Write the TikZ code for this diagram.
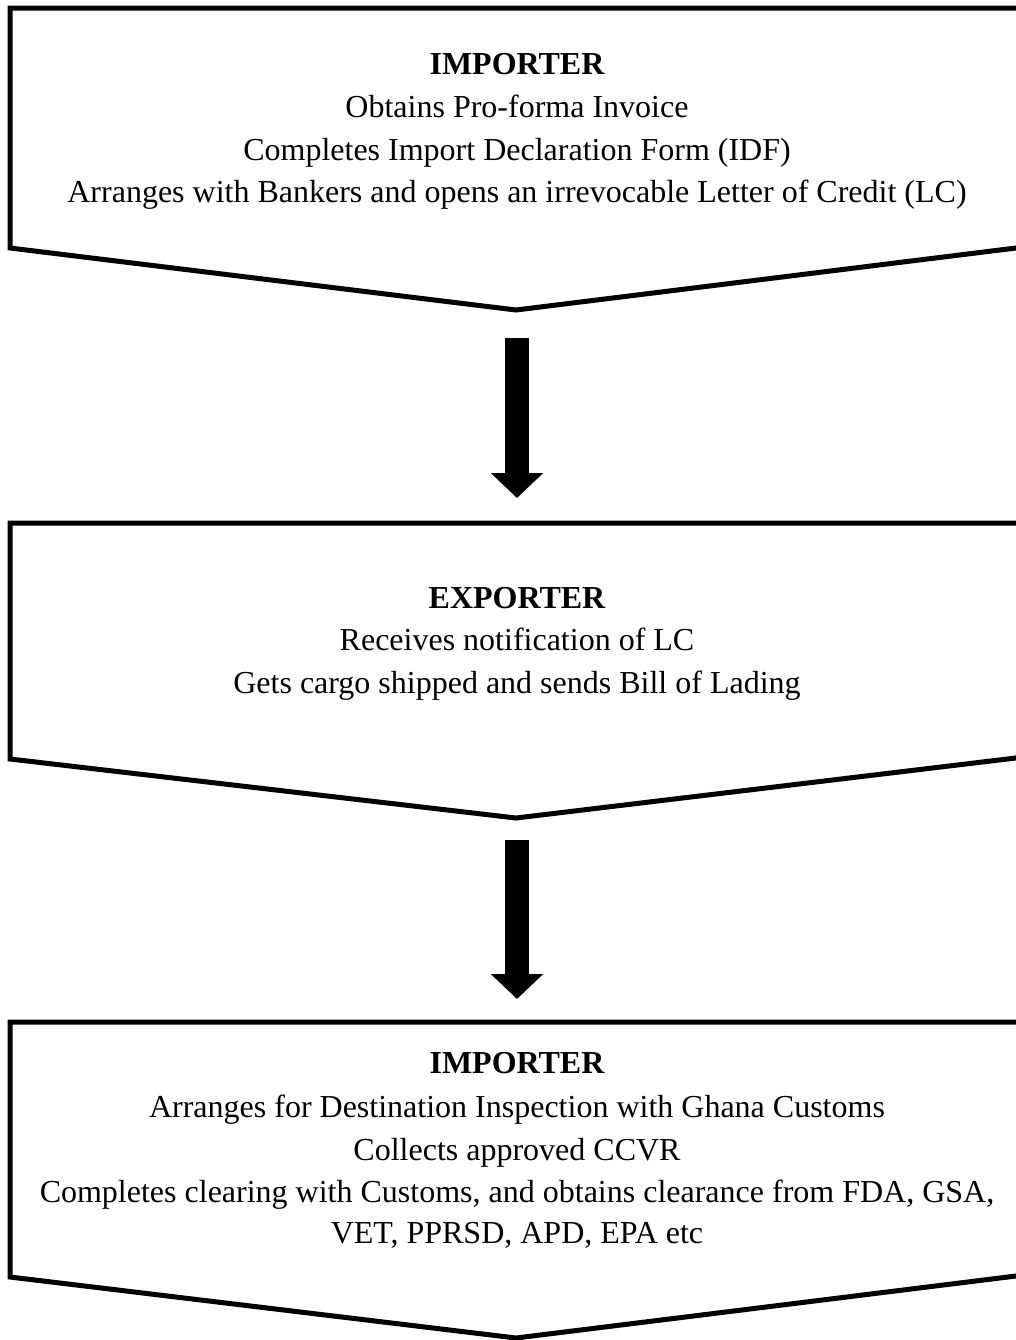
\documentclass[tikz,border=0pt]{standalone}
\usepackage{fontspec}
\setmainfont{Liberation Serif}
\usetikzlibrary{arrows.meta}
\tikzset{
  boxline/.style={line width=3.75pt, line join=miter, draw=black},
  txt/.style={anchor=base, inner sep=0pt, font=\fontsize{24}{29}\selectfont},
  head/.style={txt, font=\fontsize{24}{29}\selectfont\bfseries},
  bigarrow/.style={line width=18pt, -{Triangle[length=18.75pt,width=38.25pt]}}
}
\begin{document}
\begin{tikzpicture}[x=0.75pt,y=-0.75pt]
\useasboundingbox (0,0) rectangle (1016,1340);
% box 1
\draw[boxline] (10,8) -- (1024,8) -- (1024,247) -- (516,310) -- (10,248) -- cycle;
\node[head] (h1) at (517,74) {IMPORTER};
\node[txt] (l1a) at (517,117) {Obtains Pro-forma Invoice};
\node[txt] (l1b) at (517,160) {Completes Import Declaration Form (IDF)};
\node[txt] (l1c) at (517,202) {Arranges with Bankers and opens an irrevocable Letter of Credit (LC)};
% arrow 1
\coordinate (a1s) at (517,338);
\coordinate (a1e) at (517,498);
\draw[bigarrow] (a1s) -- (a1e);
% box 2
\draw[boxline] (10,523) -- (1024,523) -- (1024,757) -- (516,818) -- (10,759) -- cycle;
\node[head] (h2) at (517,608) {EXPORTER};
\node[txt] (l2a) at (517,650) {Receives notification of LC};
\node[txt] (l2b) at (517,693) {Gets cargo shipped and sends Bill of Lading};
% arrow 2
\coordinate (a2s) at (517,840);
\coordinate (a2e) at (517,999);
\draw[bigarrow] (a2s) -- (a2e);
% box 3
\draw[boxline] (10,1022) -- (1024,1022) -- (1024,1275) -- (516,1338) -- (10,1277) -- cycle;
\node[head] (h3) at (517,1073) {IMPORTER};
\node[txt] (l3a) at (517,1117) {Arranges for Destination Inspection with Ghana Customs};
\node[txt] (l3b) at (517,1160) {Collects approved CCVR};
\node[txt] (l3c) at (517,1202) {Completes clearing with Customs, and obtains clearance from FDA, GSA,};
\node[txt] (l3d) at (517,1243) {VET, PPRSD, APD, EPA etc};
\end{tikzpicture}
\end{document}
